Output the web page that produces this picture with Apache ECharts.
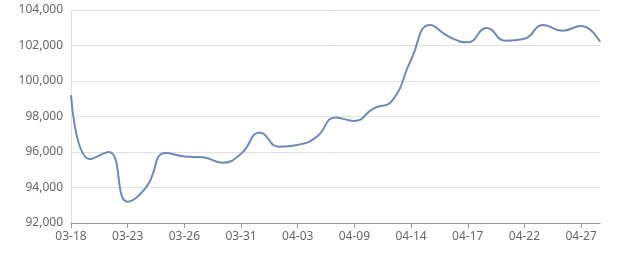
<!DOCTYPE html>
<html>
<head>
<meta charset="utf-8">
<script src="https://cdn.jsdelivr.net/npm/echarts@6/dist/echarts.min.js"></script>
<style>
html,body{margin:0;padding:0;background:#fff;}
#c{width:640px;height:270px;}
</style>
</head>
<body>
<div id="c"></div>
<script>
var dates = ['03-18','03-19','03-20','03-23','03-24','03-25','03-26','03-27','03-30','03-31',
  '04-01','04-02','04-03','04-07','04-08','04-09','04-10','04-13','04-14','04-15',
  '04-16','04-17','04-20','04-21','04-22','04-23','04-24','04-27','04-28'];
var prices = [99200,95600,96000,93200,94050,95950,95750,95700,95400,95900,
  97100,96300,96400,96850,97950,97750,98450,98900,101200,103150,
  102500,102180,102980,102270,102380,103150,102830,103100,102210];
var yMin = 92000, yMax = 104000, yStep = 2000;

function fmt(v){ return String(v).replace(/\B(?=(\d{3})+(?!\d))/g, ','); }

var chart = echarts.init(document.getElementById('c'));
chart.setOption({
  animation: false,
  grid: {left: 71, right: 40, top: 10, bottom: 47},
  xAxis: {
    type: 'category',
    data: dates,
    boundaryGap: false,
    axisLine: {lineStyle: {color: '#999'}},
    axisTick: {interval: 2, length: 5, lineStyle: {color: '#999'}},
    axisLabel: {interval: 2, color: '#666', fontSize: 12, margin: 8, fontFamily: 'Noto Sans'}
  },
  yAxis: {
    type: 'value',
    min: yMin, max: yMax, interval: yStep,
    axisLine: {show: true, lineStyle: {color: '#ddd'}},
    axisTick: {show: false},
    splitLine: {lineStyle: {color: '#e0e0e0'}},
    axisLabel: {color: '#666', fontSize: 12, margin: 8, fontFamily: 'Noto Sans', formatter: fmt}
  },
  series: [{
    type: 'line',
    data: prices,
    smooth: true,
    showSymbol: false,
    lineStyle: {color: '#7089b9', width: 2}
  }]
});
</script>
</body>
</html>
